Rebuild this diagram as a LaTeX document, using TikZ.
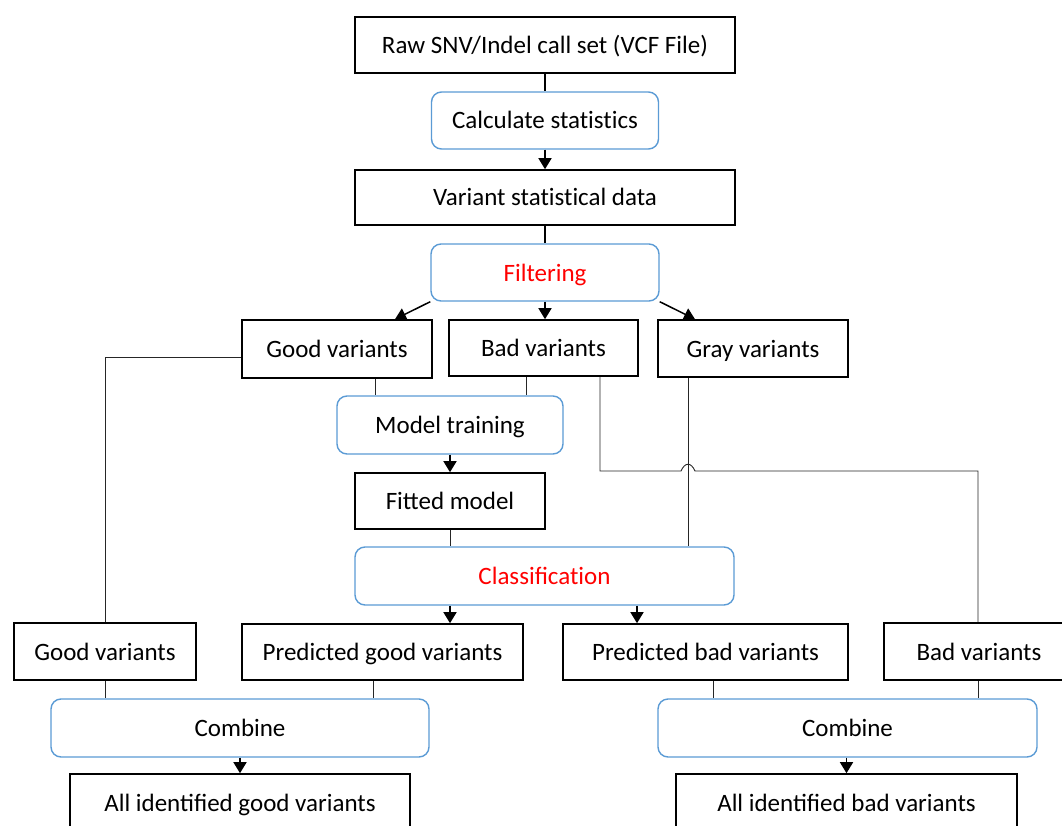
\documentclass[tikz,border=0pt]{standalone}
\usepackage{fontspec}
\setmainfont{Carlito}
\usetikzlibrary{arrows.meta}
\definecolor{boxblue}{HTML}{5B9BD5}
\definecolor{fred}{HTML}{FF0000}
\newcommand\brk{\kern0pt }
\tikzset{
  txt/.style={font=\fontsize{25}{30}\selectfont, text height=20pt, text depth=3pt, inner sep=0pt, fill=white},
  sq/.style={txt, draw=black, line width=1.6pt},
  rb/.style={txt, draw=boxblue, line width=1.4pt, rounded corners=10pt},
  arr/.style={line width=1.5pt, -{Triangle[length=11pt,width=13pt]}},
  conn/.style={line width=0.9pt, draw=black!85},
}
\begin{document}
\begin{tikzpicture}[x=1pt,y=-1pt]
\useasboundingbox (0,0) rectangle (1062,826);
% nodes
\node[sq, minimum width=380pt, minimum height=56pt] (raw) at (545,45) {Raw SNV/Indel call set (VCF File)};
\node[rb, minimum width=227pt, minimum height=57pt] (calc) at (545,120.5) {Calculate stat\brk ist\brk ics};
\node[sq, minimum width=380pt, minimum height=55pt] (var) at (545,197.5) {Variant stat\brk ist\brk ical data};
\node[rb, minimum width=228pt, minimum height=57pt] (filt) at (545,272.5) {\textcolor{fred}{Filtering}};
\node[sq, minimum width=190pt, minimum height=58pt] (good1) at (337,349) {Good variants};
\node[sq, minimum width=189pt, minimum height=56pt] (bad1) at (543.5,348) {Bad variants};
\node[sq, minimum width=190pt, minimum height=57pt] (gray) at (753,348.5) {Gray variants};
\node[rb, minimum width=226pt, minimum height=58pt] (mt) at (450,425) {Model training};
\node[sq, minimum width=190pt, minimum height=56pt] (fit) at (450,501) {Fitted model};
\node[rb, minimum width=379pt, minimum height=58pt] (cls) at (544.5,576) {\textcolor{fred}{Classificat\brk ion}};
\node[sq, minimum width=182pt, minimum height=57pt] (good2) at (105,651.5) {Good variants};
\node[sq, minimum width=281pt, minimum height=56pt] (pgood) at (382.5,652) {Predicted good variants};
\node[sq, minimum width=285pt, minimum height=56pt] (pbad) at (705.5,652) {Predicted bad variants};
\node[sq, minimum width=190pt, minimum height=57pt] (bad2) at (979,651.5) {Bad variants};
\node[rb, minimum width=378pt, minimum height=58pt] (comb1) at (240,728) {Combine};
\node[rb, minimum width=379pt, minimum height=58pt] (comb2) at (847.5,728) {Combine};
\node[sq, minimum width=340pt, minimum height=58pt] (allgood) at (240,803) {All identified good variants};
\node[sq, minimum width=341pt, minimum height=58pt] (allbad) at (846.5,803) {All identified bad variants};
% connectors
\draw[line width=1.5pt] (raw) -- (calc);
\draw[arr] (calc) -- (var);
\draw[line width=1.5pt] (var) -- (filt);
\draw[arr] (filt.south west) -- (good1.north -| 395,0);
\draw[arr] (filt) -- (filt |- bad1.north);
\draw[arr] (filt.south east) -- (gray.north -| 695,0);
\draw[conn] (good1.south -| 375,0) -- (mt.north -| 375,0);
\draw[conn] (bad1.south -| 526,0) -- (mt.north -| 526,0);
\draw[arr] (mt) -- (fit);
\draw[conn] (fit) -- (cls.north -| fit);
\draw[conn] (gray.south -| 688,0) -- (cls.north -| 688,0);
\draw[conn] (bad1.south -| 600,0) -- (600,471) -- (681,471) .. controls (685,462) and (691,462) .. (695,471) -- (978,471) -- (bad2.north -| 978,0);
\draw[conn] ([yshift=-8pt]good1.west) -| (good2.north);
\draw[arr] (cls.south -| 450,0) -- (pgood.north -| 450,0);
\draw[arr] (cls.south -| 637,0) -- (pbad.north -| 637,0);
\draw[conn] (good2) -- (comb1.north -| good2);
\draw[conn] (pgood.south -| 373,0) -- (comb1.north -| 373,0);
\draw[conn] (pbad.south -| 713,0) -- (comb2.north -| 713,0);
\draw[conn] (bad2.south -| 978,0) -- (comb2.north -| 978,0);
\draw[arr] (comb1) -- (allgood);
\draw[arr] (comb2.south -| allbad) -- (allbad);
\end{tikzpicture}
\end{document}
